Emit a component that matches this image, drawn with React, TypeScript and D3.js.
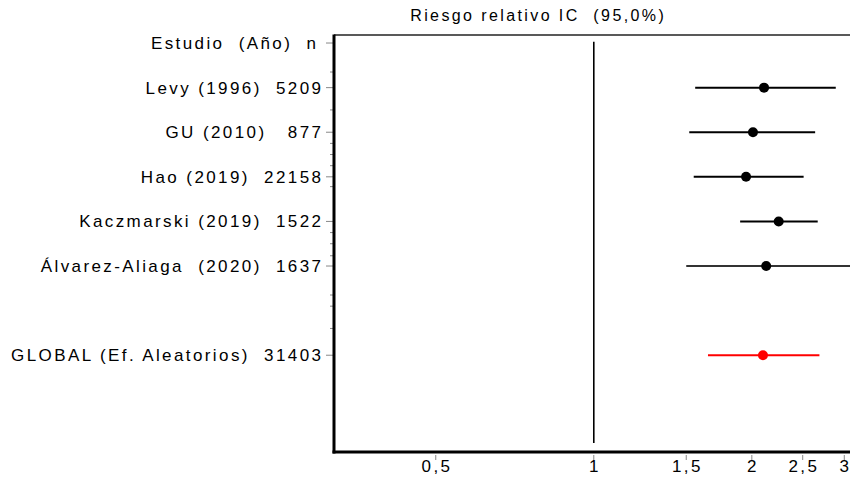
import React from "react";
import * as d3 from "d3";

// Studies (row order) and their estimates
const studies = [
  "Levy (1996)  5209",
  "GU (2010)   877",
  "Hao (2019)  22158",
  "Kaczmarski (2019)  1522",
  "Álvarez-Aliaga  (2020)  1637",
];
const rr = [2.11, 2.01, 1.95, 2.25, 2.13];
const lower = [1.56, 1.52, 1.55, 1.9, 1.5];
const upper = [2.89, 2.64, 2.51, 2.67, 3.12];

// Pooled estimate (random effects)
const pooledLabel = "GLOBAL (Ef. Aleatorios)  31403";
const pooledRR = 2.1;
const pooledLower = 1.65;
const pooledUpper = 2.69;

const headerLabel = "Estudio  (Año)  n";
const title = "Riesgo relativo IC  (95,0%)";

const xTicks = [0.5, 1, 1.5, 2, 2.5, 3];
const xTickLabels = ["0,5", "1", "1,5", "2", "2,5", "3"];

// Row positions: header 0, studies 1..5, pooled 7
const studyRows = [1, 2, 3, 4, 5];
const pooledRow = 7;
const majorRows = [0, 1, 2, 3, 4, 5, 7];
const minorRows = [0.65, 1.5, 2.25, 2.5, 2.75, 3.22, 4.25, 4.5, 4.77, 5.65, 5.9, 6.4];

const W = 850;
const H = 485;
const left = 334;
const top = 35;
const bottom = 452;

const font = "'Liberation Sans', Arial, sans-serif";
const ls = 2.4;

export default function App() {
  const x = d3.scaleLog().domain([0.32, 3.2]).range([left, 859]);
  const y = d3.scaleLinear().domain([-0.18, 9.17]).range([top, bottom]);

  const labelProps = {
    textAnchor: "end" as const,
    fontFamily: font,
    fontSize: 17,
    letterSpacing: ls,
    fill: "#000",
    style: { whiteSpace: "pre" as const },
  };

  return (
    <div style={{ position: "absolute", left: 0, top: 0 }}>
      <svg width={W} height={H} style={{ display: "block", background: "#fff" }}>
        <defs>
          <clipPath id="plotArea">
            <rect x={left} y={top} width={W - left} height={bottom - top} />
          </clipPath>
        </defs>

        <text x={537 + ls / 2} y={21} textAnchor="middle" fontFamily={font} fontSize={16} letterSpacing={ls} fill="#000" style={{ whiteSpace: "pre" }}>
          {title}
        </text>

        {/* top frame */}
        <line x1={left} x2={W} y1={top} y2={top} stroke="#222" strokeWidth={1.5} />

        {/* null line */}
        <line x1={x(1)} x2={x(1)} y1={y(-0.03)} y2={y(8.97)} stroke="#000" strokeWidth={1.6} />

        {/* left axis ticks */}
        {minorRows.map((r, i) => (
          <line key={"mi" + i} x1={left - 4} x2={left} y1={y(r)} y2={y(r)} stroke="#888" strokeWidth={1} />
        ))}
        {majorRows.map((r, i) => (
          <line key={"ma" + i} x1={left - 8} x2={left} y1={y(r)} y2={y(r)} stroke="#888" strokeWidth={1} />
        ))}

        {/* row labels */}
        <text x={316 + ls} y={y(0) + 6} {...labelProps}>
          {headerLabel}
        </text>
        {studies.map((s, i) => (
          <text key={s} x={321 + ls} y={y(studyRows[i]) + 6} {...labelProps}>
            {s}
          </text>
        ))}
        <text x={321 + ls} y={y(pooledRow) + 6} {...labelProps}>
          {pooledLabel}
        </text>

        <g clipPath="url(#plotArea)">
          {studies.map((s, i) => (
            <g key={"m" + s}>
              <line x1={x(lower[i])} x2={x(upper[i])} y1={y(studyRows[i])} y2={y(studyRows[i])} stroke={i === 4 ? "#333" : "#000"} strokeWidth={2} />
              <circle cx={x(rr[i])} cy={y(studyRows[i])} r={5} fill="#000" />
            </g>
          ))}
          <line x1={x(pooledLower)} x2={x(pooledUpper)} y1={y(pooledRow)} y2={y(pooledRow)} stroke="#ff0000" strokeWidth={2} />
          <circle cx={x(pooledRR)} cy={y(pooledRow)} r={5} fill="#ff0000" />
        </g>

        {/* x axis */}
        {xTicks.map((t, i) => (
          <g key={"t" + t}>
            <line x1={x(t)} x2={x(t)} y1={bottom + 3} y2={bottom + 8} stroke="#888" strokeWidth={1} />
            <text x={x(t) + ls / 2} y={bottom + 20} textAnchor="middle" fontFamily={font} fontSize={17} letterSpacing={ls} fill="#000">
              {xTickLabels[i]}
            </text>
          </g>
        ))}

        {/* left and bottom axis lines */}
        <line x1={left} x2={left} y1={top - 0.5} y2={bottom + 1.5} stroke="#000" strokeWidth={3} />
        <line x1={left - 1.5} x2={W} y1={bottom} y2={bottom} stroke="#000" strokeWidth={3} />
      </svg>
    </div>
  );
}
